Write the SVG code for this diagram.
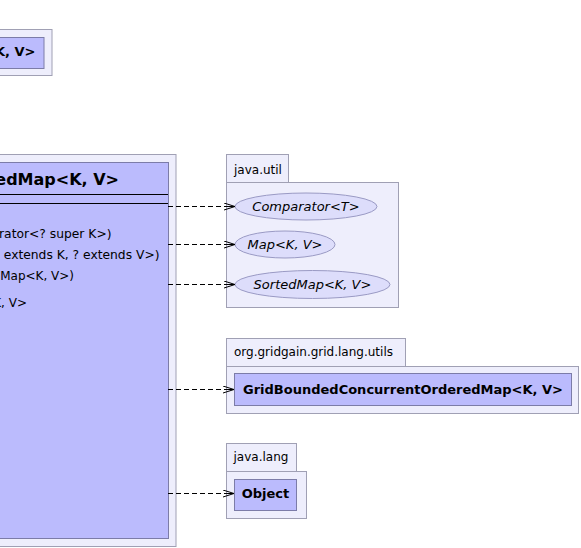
<svg xmlns="http://www.w3.org/2000/svg" width="581" height="548" viewBox="0 0 581 548">
  <style>
    .pkg { fill: #eeeefc; stroke: #a0a0b4; stroke-width: 1; }
    .cls { fill: #bbbbfd; stroke: #7c7ca8; stroke-width: 1; }
    .ifc { fill: #ddddfb; stroke: #9a9ac4; stroke-width: 1; }
    .lbl { font-family: "DejaVu Sans", sans-serif; font-size: 12px; fill: #000; }
    .bold { font-family: "DejaVu Sans", sans-serif; font-size: 13px; font-weight: bold; fill: #000; }
    .ital { font-family: "DejaVu Sans", sans-serif; font-size: 13px; font-style: italic; fill: #000; }
    .edge { fill: none; stroke: #000; stroke-width: 1; stroke-dasharray: 5 3; }
  </style>
  <defs>
    <marker id="vee" viewBox="0 0 12 8" refX="11" refY="4" markerWidth="12" markerHeight="8" markerUnits="userSpaceOnUse" orient="auto">
      <path d="M0,0.5 L11,4 L0,7.5 M3,4 L11,4" fill="none" stroke="#000" stroke-width="1"/>
    </marker>
  </defs>

  <!-- upper-left class, partly off canvas -->
  <g id="node-upper">
    <rect class="pkg" x="-2" y="29.5" width="54" height="46"/>
    <rect class="cls" x="-2" y="37.5" width="46" height="31"/>
    <text class="bold" x="35.5" y="56" text-anchor="end">&lt;K, V&gt;</text>
  </g>

  <!-- main class -->
  <g id="node-main">
    <rect class="pkg" x="-2" y="154.5" width="178" height="392"/>
    <rect class="cls" x="-2" y="162.5" width="170.5" height="376"/>
    <text class="bold" x="119" y="185" text-anchor="end" style="font-size:16px">edMap&lt;K, V&gt;</text>
    <line x1="0" y1="194.5" x2="168" y2="194.5" stroke="#000" stroke-width="1"/>
    <line x1="0" y1="203.5" x2="168" y2="203.5" stroke="#000" stroke-width="1"/>
    <text class="lbl" x="111.5" y="238" text-anchor="end" style="font-size:12.3px">rator&lt;? super K&gt;)</text>
    <text class="lbl" x="159.5" y="259" text-anchor="end" style="font-size:12.3px"> extends K, ? extends V&gt;)</text>
    <text class="lbl" x="74" y="280" text-anchor="end">Map&lt;K, V&gt;)</text>
    <text class="lbl" x="27" y="307" text-anchor="end">K, V&gt;</text>
  </g>

  <!-- package java.util -->
  <g id="pkg-java-util">
    <rect class="pkg" x="226.5" y="154.5" width="62" height="28"/>
    <rect class="pkg" x="226.5" y="182.5" width="172" height="125"/>
    <text class="lbl" x="234" y="174">java.util</text>
  </g>
  <g id="node-comparator">
    <ellipse class="ifc" cx="306" cy="206.5" rx="71" ry="13.5"/>
    <text class="ital" x="306" y="211" text-anchor="middle">Comparator&lt;T&gt;</text>
  </g>
  <g id="node-map">
    <ellipse class="ifc" cx="285" cy="244.5" rx="50" ry="13.5"/>
    <text class="ital" x="285" y="249" text-anchor="middle">Map&lt;K, V&gt;</text>
  </g>
  <g id="node-sortedmap">
    <ellipse class="ifc" cx="312.5" cy="284.5" rx="77.5" ry="14"/>
    <text class="ital" x="312.5" y="289" text-anchor="middle">SortedMap&lt;K, V&gt;</text>
  </g>

  <!-- package org.gridgain.grid.lang.utils -->
  <g id="pkg-gridgain">
    <rect class="pkg" x="226.5" y="338.5" width="179" height="28"/>
    <rect class="pkg" x="226.5" y="366.5" width="352" height="47"/>
    <text class="lbl" x="234" y="356">org.gridgain.grid.lang.utils</text>
  </g>
  <g id="node-bounded-map">
    <rect class="cls" x="234.5" y="373.5" width="337" height="32"/>
    <text class="bold" x="403" y="393.5" text-anchor="middle">GridBoundedConcurrentOrderedMap&lt;K, V&gt;</text>
  </g>

  <!-- package java.lang -->
  <g id="pkg-java-lang">
    <rect class="pkg" x="226.5" y="443.5" width="70" height="28"/>
    <rect class="pkg" x="226.5" y="471.5" width="80" height="47"/>
    <text class="lbl" x="233.5" y="461">java.lang</text>
  </g>
  <g id="node-object">
    <rect class="cls" x="234.5" y="479.5" width="62" height="31"/>
    <text class="bold" x="265.5" y="497.5" text-anchor="middle">Object</text>
  </g>

  <!-- dependency connectors -->
  <g id="connectors">
    <path class="edge" d="M168,206.5 H235" marker-end="url(#vee)"/>
    <path class="edge" d="M168,244.5 H235" marker-end="url(#vee)"/>
    <path class="edge" d="M168,284.5 H235" marker-end="url(#vee)"/>
    <path class="edge" d="M168,389.5 H234" marker-end="url(#vee)"/>
    <path class="edge" d="M168,493.5 H234" marker-end="url(#vee)"/>
  </g>
</svg>
